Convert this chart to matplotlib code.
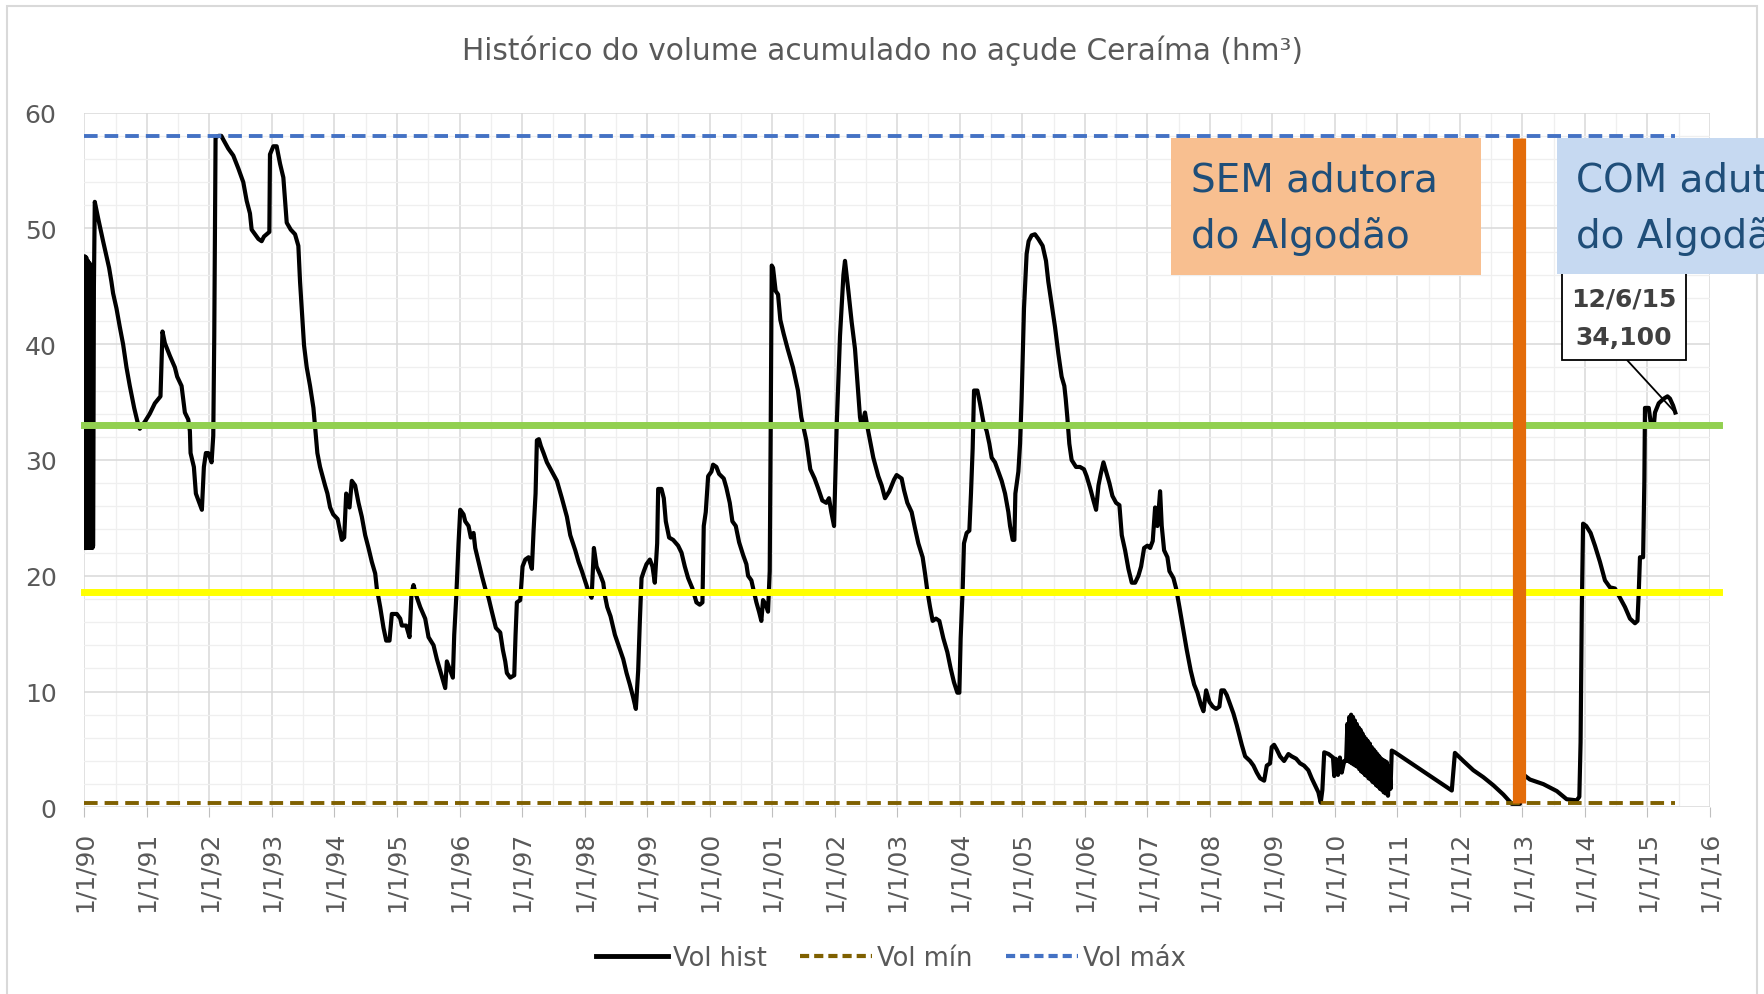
"""Histórico do volume acumulado no açude Ceraíma (hm3)."""

import matplotlib
matplotlib.use("Agg")
import matplotlib.pyplot as plt
from matplotlib.lines import Line2D
from matplotlib.patches import Rectangle

W, H = 1765, 995

# --- Data (decimal years, hm3) ---
dates = [
    1990.000, 1990.004, 1990.018, 1990.030, 1990.045, 1990.058, 1990.072, 1990.085,
    1990.100, 1990.112, 1990.128, 1990.140, 1990.152, 1990.166, 1990.219, 1990.299,
    1990.395, 1990.432, 1990.459, 1990.513, 1990.566, 1990.619, 1990.673, 1990.726,
    1990.796, 1990.849, 1990.886, 1990.966, 1991.046, 1991.127, 1991.217, 1991.249,
    1991.287, 1991.367, 1991.447, 1991.484, 1991.554, 1991.607, 1991.661, 1991.687,
    1991.698, 1991.751, 1991.783, 1991.837, 1991.879, 1991.911, 1991.943, 1991.981,
    1992.034, 1992.061, 1992.077, 1992.098, 1992.150, 1992.190, 1992.219, 1992.301,
    1992.381, 1992.461, 1992.541, 1992.595, 1992.648, 1992.675, 1992.728, 1992.782,
    1992.835, 1992.872, 1992.958, 1992.968, 1993.022, 1993.075, 1993.129, 1993.182,
    1993.209, 1993.236, 1993.300, 1993.369, 1993.422, 1993.449, 1993.476, 1993.513,
    1993.556, 1993.609, 1993.663, 1993.689, 1993.726, 1993.769, 1993.849, 1993.887,
    1993.930, 1993.980, 1994.050, 1994.117, 1994.155, 1994.187, 1994.240, 1994.277,
    1994.330, 1994.384, 1994.437, 1994.491, 1994.544, 1994.597, 1994.651, 1994.677,
    1994.731, 1994.784, 1994.827, 1994.880, 1994.917, 1994.997, 1995.051, 1995.077,
    1995.147, 1995.200, 1995.232, 1995.264, 1995.307, 1995.371, 1995.451, 1995.504,
    1995.584, 1995.637, 1995.691, 1995.771, 1995.797, 1995.851, 1995.893, 1995.915,
    1995.947, 1995.984, 1996.011, 1996.064, 1996.091, 1996.144, 1996.181, 1996.224,
    1996.251, 1996.304, 1996.357, 1996.411, 1996.464, 1996.517, 1996.581, 1996.651,
    1996.693, 1996.731, 1996.757, 1996.811, 1996.875, 1996.896, 1996.917, 1996.971,
    1997.008, 1997.051, 1997.104, 1997.157, 1997.184, 1997.216, 1997.237, 1997.269,
    1997.301, 1997.344, 1997.397, 1997.477, 1997.557, 1997.637, 1997.717, 1997.771,
    1997.851, 1997.904, 1997.957, 1998.005, 1998.059, 1998.112, 1998.149, 1998.192,
    1998.256, 1998.298, 1998.325, 1998.362, 1998.415, 1998.485, 1998.554, 1998.618,
    1998.671, 1998.724, 1998.777, 1998.820, 1998.857, 1998.884, 1998.911, 1998.948,
    1998.990, 1999.044, 1999.086, 1999.123, 1999.161, 1999.177, 1999.230, 1999.267,
    1999.299, 1999.352, 1999.416, 1999.496, 1999.550, 1999.603, 1999.656, 1999.725,
    1999.789, 1999.842, 1999.885, 1999.906, 1999.938, 1999.976, 2000.029, 2000.055,
    2000.108, 2000.151, 2000.226, 2000.268, 2000.322, 2000.364, 2000.418, 2000.471,
    2000.535, 2000.588, 2000.615, 2000.668, 2000.705, 2000.748, 2000.790, 2000.827,
    2000.854, 2000.897, 2000.934, 2000.961, 2000.977, 2000.993, 2001.014, 2001.056,
    2001.094, 2001.131, 2001.184, 2001.248, 2001.333, 2001.413, 2001.466, 2001.546,
    2001.610, 2001.679, 2001.733, 2001.802, 2001.866, 2001.909, 2001.946, 2001.990,
    2002.032, 2002.085, 2002.140, 2002.165, 2002.219, 2002.272, 2002.325, 2002.352,
    2002.405, 2002.432, 2002.485, 2002.522, 2002.565, 2002.618, 2002.698, 2002.752,
    2002.805, 2002.874, 2002.949, 2002.991, 2003.071, 2003.109, 2003.162, 2003.231,
    2003.285, 2003.338, 2003.407, 2003.445, 2003.482, 2003.525, 2003.567, 2003.620,
    2003.674, 2003.738, 2003.802, 2003.855, 2003.908, 2003.962, 2003.994, 2004.015,
    2004.047, 2004.068, 2004.111, 2004.154, 2004.180, 2004.207, 2004.229, 2004.282,
    2004.324, 2004.378, 2004.431, 2004.474, 2004.511, 2004.564, 2004.618, 2004.671,
    2004.725, 2004.778, 2004.805, 2004.847, 2004.874, 2004.890, 2004.938, 2004.965,
    2004.990, 2005.028, 2005.070, 2005.102, 2005.150, 2005.203, 2005.257, 2005.326,
    2005.380, 2005.417, 2005.470, 2005.524, 2005.577, 2005.630, 2005.673, 2005.695,
    2005.721, 2005.753, 2005.790, 2005.860, 2005.923, 2005.987, 2006.030, 2006.085,
    2006.139, 2006.181, 2006.219, 2006.256, 2006.299, 2006.341, 2006.394, 2006.442,
    2006.501, 2006.554, 2006.592, 2006.645, 2006.698, 2006.752, 2006.805, 2006.858,
    2006.901, 2006.949, 2007.002, 2007.045, 2007.087, 2007.125, 2007.162, 2007.205,
    2007.231, 2007.269, 2007.322, 2007.354, 2007.418, 2007.461, 2007.514, 2007.578,
    2007.631, 2007.695, 2007.749, 2007.802, 2007.855, 2007.898, 2007.941, 2007.994,
    2008.047, 2008.100, 2008.153, 2008.185, 2008.228, 2008.271, 2008.324, 2008.378,
    2008.431, 2008.474, 2008.511, 2008.565, 2008.644, 2008.698, 2008.751, 2008.805,
    2008.869, 2008.911, 2008.964, 2008.990, 2009.028, 2009.070, 2009.124, 2009.188,
    2009.257, 2009.310, 2009.380, 2009.443, 2009.507, 2009.576, 2009.630, 2009.683,
    2009.736, 2009.774, 2009.800, 2009.830, 2009.900, 2009.970, 2009.990, 2010.010,
    2010.050, 2010.080, 2010.110, 2010.150, 2010.180,
    2010.20, 2010.21, 2010.23, 2010.24, 2010.26, 2010.27, 2010.29, 2010.30,
    2010.32, 2010.33, 2010.35, 2010.36, 2010.38, 2010.39, 2010.41, 2010.42,
    2010.44, 2010.45, 2010.47, 2010.48, 2010.50, 2010.51, 2010.53, 2010.54,
    2010.56, 2010.57, 2010.59, 2010.60, 2010.62, 2010.63, 2010.65, 2010.66,
    2010.68, 2010.69, 2010.71, 2010.72, 2010.74, 2010.75, 2010.77, 2010.78,
    2010.80, 2010.81, 2010.83, 2010.85, 2010.87, 2010.89, 2010.91, 2010.96,
    2011.870, 2011.920, 2012.055, 2012.215, 2012.375, 2012.535, 2012.695, 2012.830,
    2012.960, 2013.000, 2013.070, 2013.120, 2013.335, 2013.550, 2013.707, 2013.867,
    2013.910, 2013.930, 2013.950, 2013.970, 2014.020, 2014.090, 2014.160, 2014.240,
    2014.320, 2014.400, 2014.480, 2014.560, 2014.640, 2014.720, 2014.800, 2014.840,
    2014.860, 2014.880, 2014.930, 2014.950, 2014.960, 2015.020, 2015.050, 2015.100,
    2015.120, 2015.180, 2015.260, 2015.320, 2015.360, 2015.410, 2015.445,
]

vol_hist = [
    22.4, 47.6, 22.4, 47.5, 22.4, 47.2, 22.4, 47.0,
    22.4, 46.8, 22.4, 22.6, 45.0, 52.3, 50.9, 48.9,
    46.6, 45.4, 44.4, 43.1, 41.5, 40.0, 38.0, 36.4,
    34.5, 33.3, 32.7, 33.3, 34.0, 34.9, 35.5, 41.1,
    40.1, 39.0, 38.0, 37.2, 36.4, 34.1, 33.5, 32.5,
    30.6, 29.4, 27.1, 26.3, 25.7, 29.4, 30.6, 30.6,
    29.8, 32.1, 40.7, 57.9, 58.0, 58.0, 57.7, 56.9,
    56.3, 55.2, 54.0, 52.4, 51.3, 49.9, 49.5, 49.1,
    48.9, 49.3, 49.7, 56.4, 57.1, 57.1, 55.6, 54.4,
    52.4, 50.5, 49.9, 49.5, 48.5, 45.4, 43.1, 39.9,
    38.0, 36.4, 34.5, 32.9, 30.6, 29.4, 27.8, 27.1,
    25.9, 25.3, 24.9, 23.1, 23.3, 27.1, 25.9, 28.2,
    27.8, 26.3, 25.1, 23.5, 22.4, 21.2, 20.2, 18.9,
    17.3, 15.5, 14.4, 14.4, 16.7, 16.7, 16.3, 15.7,
    15.7, 14.7, 18.5, 19.2, 18.3, 17.3, 16.3, 14.7,
    14.0, 12.8, 11.8, 10.3, 12.6, 11.8, 11.2, 14.9,
    18.1, 22.8, 25.7, 25.3, 24.7, 24.3, 23.3, 23.7,
    22.4, 21.2, 20.0, 18.9, 18.1, 16.9, 15.5, 15.1,
    13.6, 12.6, 11.6, 11.2, 11.4, 14.9, 17.7, 17.9,
    20.8, 21.4, 21.6, 20.6, 23.9, 27.1, 31.7, 31.8,
    31.2, 30.6, 29.8, 29.0, 28.2, 26.7, 25.1, 23.5,
    22.2, 21.2, 20.4, 19.6, 18.7, 18.1, 22.4, 20.8,
    20.0, 19.4, 18.3, 17.3, 16.5, 14.9, 13.8, 12.8,
    11.6, 10.6, 9.5, 8.5, 11.8, 16.1, 19.8, 20.4,
    21.0, 21.4, 20.8, 19.4, 22.8, 27.5, 27.5, 26.7,
    24.7, 23.3, 23.1, 22.6, 22.0, 20.8, 19.8, 18.9,
    17.7, 17.5, 17.7, 24.3, 25.5, 28.6, 29.0, 29.6,
    29.4, 28.8, 28.4, 27.6, 26.3, 24.7, 24.3, 22.9,
    21.8, 21.0, 20.0, 19.6, 18.7, 17.7, 16.9, 16.1,
    17.9, 17.5, 16.9, 20.4, 32.9, 46.8, 46.6, 44.6,
    44.3, 42.1, 40.9, 39.6, 38.0, 36.0, 33.7, 31.7,
    29.2, 28.4, 27.6, 26.5, 26.3, 26.7, 25.5, 24.3,
    32.9, 40.7, 46.0, 47.2, 44.6, 41.9, 39.6, 37.6,
    33.7, 32.9, 34.1, 32.9, 31.7, 30.2, 28.6, 27.8,
    26.7, 27.3, 28.3, 28.7, 28.4, 27.4, 26.3, 25.5,
    24.1, 22.8, 21.6, 20.2, 18.7, 17.3, 16.1, 16.3,
    16.1, 14.6, 13.4, 12.0, 10.8, 9.9, 9.9, 14.6,
    18.8, 22.8, 23.7, 23.9, 27.1, 31.0, 36.0, 36.0,
    34.9, 33.3, 32.5, 31.4, 30.2, 29.8, 29.0, 28.2,
    27.1, 25.5, 24.3, 23.1, 23.1, 27.1, 29.0, 31.4,
    35.3, 43.1, 47.8, 48.9, 49.4, 49.5, 49.1, 48.5,
    47.2, 45.4, 43.5, 41.5, 39.2, 37.2, 36.4, 35.3,
    33.7, 31.4, 30.0, 29.4, 29.4, 29.2, 28.6, 27.6,
    26.5, 25.7, 27.8, 28.8, 29.8, 29.0, 28.0, 26.9,
    26.3, 26.1, 23.5, 22.2, 20.6, 19.4, 19.4, 20.0,
    20.8, 22.4, 22.6, 22.4, 23.0, 25.9, 24.3, 27.3,
    24.3, 22.2, 21.6, 20.4, 19.8, 18.9, 17.3, 15.3,
    13.6, 11.8, 10.6, 9.9, 8.9, 8.3, 10.1, 9.1,
    8.7, 8.5, 8.7, 10.1, 10.1, 9.7, 8.9, 8.1,
    7.1, 6.2, 5.4, 4.4, 4.0, 3.6, 3.0, 2.5,
    2.3, 3.6, 3.8, 5.2, 5.4, 5.0, 4.4, 4.0,
    4.6, 4.4, 4.2, 3.8, 3.6, 3.2, 2.5, 1.9,
    1.3, 0.4, 1.5, 4.75, 4.6, 4.3, 2.7, 4.2,
    2.8, 4.3, 3.0, 4.0, 4.0,
    7.2, 4.0, 7.8, 3.9, 8.0, 3.8, 7.8, 3.7,
    7.5, 3.6, 7.2, 3.5, 6.9, 3.3, 6.7, 3.1,
    6.4, 3.0, 6.1, 2.8, 5.9, 2.7, 5.7, 2.5,
    5.5, 2.4, 5.2, 2.2, 5.0, 2.1, 4.8, 1.9,
    4.6, 1.8, 4.4, 1.6, 4.2, 1.5, 4.1, 1.3,
    4.0, 1.2, 3.9, 1.0, 3.5, 1.6, 4.9, 4.75,
    1.45, 4.7, 4.0, 3.2, 2.6, 1.9, 1.1, 0.3,
    0.3, 2.9, 2.6, 2.4, 2.0, 1.4, 0.7, 0.6,
    0.9, 5.6, 17.3, 24.5, 24.3, 23.7, 22.6, 21.2,
    19.6, 19.0, 18.9, 18.1, 17.3, 16.3, 15.9, 16.1,
    18.5, 21.6, 21.6, 28.2, 34.5, 34.5, 33.3, 32.9,
    34.1, 34.9, 35.3, 35.5, 35.3, 34.7, 34.1,
]

VOL_MIN = 0.4
VOL_MAX = 58.0
LEVEL_GREEN = 33.0
LEVEL_YELLOW = 18.6
ADUTORA_DATE = 2012.95
years = list(range(1990, 2017))
year_labels = [f"1/1/{y % 100:02d}" for y in years]
series_labels = ["Vol hist", "Vol mín", "Vol máx"]
title = "Histórico do volume acumulado no açude Ceraíma (hm³)"

TXT = "#595959"
BLUE = "#4472C4"
BROWN = "#7F6000"


def fx(px):
    return px / W


def fy(py):
    return 1 - py / H


fig = plt.figure(figsize=(W / 100, H / 100), dpi=100, facecolor="white")
ax = fig.add_axes([fx(84.4), fy(808.3), fx(1710 - 84.4), (808.3 - 113.7) / H])

# --- Series ---
x0, x1 = dates[0], dates[-1]
ax.plot(dates, vol_hist, color="black", lw=3.0, zorder=3, solid_joinstyle="round")
ax.plot([x0, x1], [VOL_MIN, VOL_MIN], color=BROWN, lw=2.8, ls=(0, (3.5, 1.8)), zorder=4)
ax.plot([x0, x1], [VOL_MAX, VOL_MAX], color=BLUE, lw=2.8, ls=(0, (3.5, 1.8)), zorder=4)

# --- Reference lines drawn as shapes ---
ax.axhline(LEVEL_GREEN, xmin=0, xmax=1.0056, color="#92D050", lw=5, zorder=5, clip_on=False)
ax.axhline(LEVEL_YELLOW, xmin=0, xmax=1.0056, color="#FFFF00", lw=5, zorder=5, clip_on=False)
ax.plot([ADUTORA_DATE, ADUTORA_DATE], [0.4, 57.8], color="#E36C0A", lw=9.5,
        solid_capstyle="butt", zorder=6)

# --- Axes ---
ax.set_xlim(1990, 2016)
ax.set_ylim(0, 60)
ax.set_xticks(years)
ax.set_xticklabels(year_labels, rotation=90)
ax.set_xticks([y + 0.5 for y in years[:-1]], minor=True)
ax.set_yticks(range(0, 61, 10))
ax.set_yticks(range(0, 61, 2), minor=True)
ax.grid(which="major", color="#d9d9d9", lw=1.1)
ax.grid(which="minor", color="#efefef", lw=0.9)
ax.set_axisbelow(True)
for s in ax.spines.values():
    s.set_visible(False)
ax.tick_params(axis="x", which="major", length=7, color="#bfbfbf", pad=10,
               labelsize=18, labelcolor=TXT)
ax.tick_params(axis="y", which="major", length=0, pad=20, labelsize=18, labelcolor=TXT)
ax.tick_params(which="minor", length=0)

# --- Title ---
fig.text(0.5, fy(51), title, ha="center", va="center", fontsize=21.3, color=TXT)

# --- Legend ---
handles = [
    Line2D([], [], color="black", lw=3.5),
    Line2D([], [], color=BROWN, lw=3, ls=(0, (2.2, 1.2))),
    Line2D([], [], color=BLUE, lw=3, ls=(0, (2.2, 1.2))),
]
fig.legend(handles, series_labels, loc="center", bbox_to_anchor=(fx(891), fy(959)),
           ncol=3, frameon=False, fontsize=18.5, labelcolor=TXT, handlelength=2.8,
           handletextpad=0.2, columnspacing=1.3)

# --- Annotation boxes ---
fig.patches.append(Rectangle((fx(1171), fy(275.8)), fx(1481 - 1171), (275.8 - 138.5) / H,
                             transform=fig.transFigure, facecolor="#F8BF90",
                             edgecolor="none", zorder=5))
fig.patches.append(Rectangle((fx(1562), fy(360.7)), fx(1686 - 1562), (360.7 - 250) / H,
                             transform=fig.transFigure, facecolor="white",
                             edgecolor="black", lw=1.3, zorder=5))
fig.patches.append(Rectangle((fx(1557), fy(274.7)), fx(1780 - 1557), (274.7 - 138.5) / H,
                             transform=fig.transFigure, facecolor="#C6D9F1",
                             edgecolor="none", zorder=6))
for txt, xp, yp in [("SEM adutora", 1191, 180), ("do Algodão", 1191, 237),
                    ("COM adutora", 1576, 180), ("do Algodão", 1576, 237)]:
    fig.text(fx(xp), fy(yp), txt, ha="left", va="center", fontsize=28,
             color="#1F4E79", zorder=7)
fig.text(fx(1624), fy(300), "12/6/15", ha="center", va="center", fontsize=18,
         fontweight="bold", color="#404040", zorder=7)
fig.text(fx(1624), fy(338), "34,100", ha="center", va="center", fontsize=18,
         fontweight="bold", color="#404040", zorder=7)
ax.annotate("", xy=(dates[-1], vol_hist[-1]), xytext=(fx(1627), fy(361)),
            textcoords="figure fraction",
            arrowprops=dict(arrowstyle="-", color="black", lw=1.3, shrinkA=0, shrinkB=0))

# --- Chart border ---
fig.patches.append(Rectangle((fx(7), -0.05), fx(1757 - 7), fy(7) + 0.05,
                             transform=fig.transFigure, fill=False,
                             edgecolor="#d9d9d9", lw=1.5, zorder=0))

fig.savefig("out.png", dpi=100, facecolor="white")
